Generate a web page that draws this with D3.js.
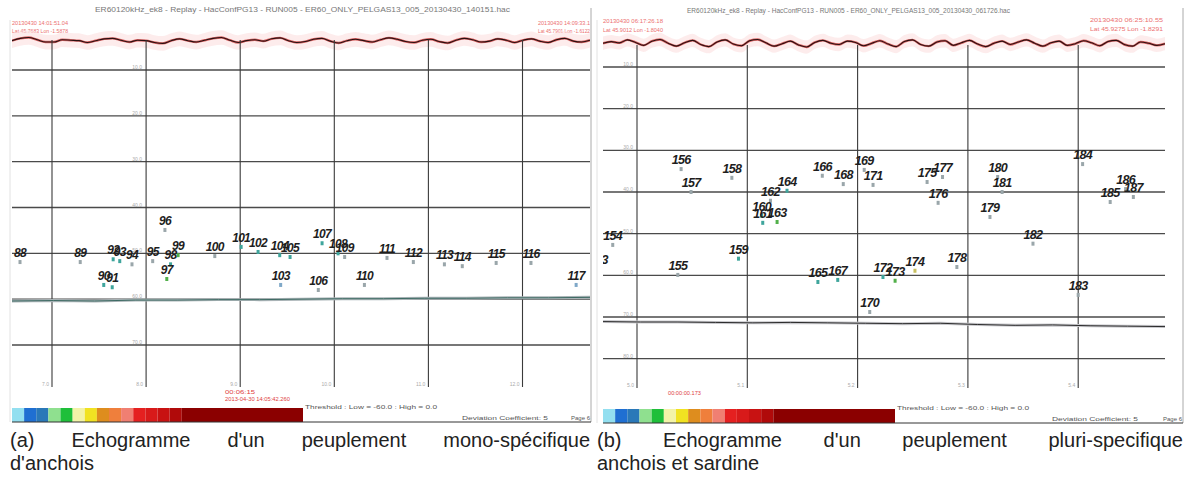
<!DOCTYPE html>
<html>
<head>
<meta charset="utf-8">
<script src="https://cdn.jsdelivr.net/npm/d3@7"></script>
<style>
  body { margin: 0; background: #fff; }
  svg text { font-family: "Liberation Sans", Arial, sans-serif; }
</style>
</head>
<body>
<div id="chart"></div>
<script>
// ---- panel (a) : mono-specific anchovy ----
const titleA = "ER60120kHz_ek8 - Replay - HacConfPG13 - RUN005 - ER60_ONLY_PELGAS13_005_20130430_140151.hac";
const idsA   = [88, 89, 90, 91, 92, 93, 94, 95, 96, 97, 98, 99, 100, 101, 102, 103, 104, 105, 106, 107, 108, 109, 110, 111, 112, 113, 114, 115, 116, 117];
// position along track (grid units) and depth (m) of each school
const posA   = [0.66, 1.30, 1.55, 1.64, 1.65, 1.72, 1.85, 2.07, 2.20, 2.22, 2.26, 2.34, 2.73, 3.01, 3.19, 3.43, 3.42, 3.53, 3.83, 3.87, 4.04, 4.11, 4.32, 4.56, 4.84, 5.17, 5.36, 5.72, 6.09, 6.57];
const depthA = [51.9, 51.9, 56.9, 57.4, 51.3, 51.7, 52.4, 51.7, 44.9, 55.6, 52.4, 50.4, 50.6, 48.6, 49.7, 56.9, 50.4, 50.8, 58.0, 47.8, 50.0, 50.8, 56.9, 51.0, 51.9, 52.4, 52.8, 52.1, 52.1, 56.9];
const echoA  = ["k","k","t","t","t","t","k","k","k","g","t","g","k","t","t","b","t","t","k","t","t","k","k","k","k","k","k","k","k","b"];
const surfA  = [3.6,3.1,2.9,3.4,3.9,3.9,3.4,3.5,3.6,4.0,3.6,3.2,3.1,3.5,3.9,3.5,3.6,4.0,4.2,3.6,3.2,3.6,3.9,3.5,3.1,2.9,3.5,4.0,3.6,3.4,3.7,3.2,3.0,3.6,4.0,3.8,3.3,3.1,3.7,4.1,3.6,3.3,3.6,3.9,3.4,3.0,3.3,3.8,4.0,3.5,3.3,3.8,4.1,3.5,3.1,3.4,3.9,3.7,3.2,3.5,4.0,3.5,3.2,3.7,4.0,3.4,3.1,3.7,3.9,3.5];
const bottomA = [60.4,60.3,60.4,60.2,60.2,60.1,60.1,60.0,59.9,59.9,59.8,59.8,59.7,59.7,59.6];
const gridXA = [1, 2, 3, 4, 5, 6];
const gridYA = [10, 20, 30, 40, 50, 60, 70];
const distA  = ["7.0", "8.0", "9.0", "10.0", "11.0", "12.0"];

// ---- panel (b) : anchovy and sardine ----
const titleB = "ER60120kHz_ek8 - Replay - HacConfPG13 - RUN005 - ER60_ONLY_PELGAS13_005_20130430_061726.hac";
const idsB   = [153, 154, 155, 156, 157, 158, 159, 160, 161, 162, 163, 164, 165, 166, 167, 168, 169, 170, 171, 172, 173, 174, 175, 176, 177, 178, 179, 180, 181, 182, 183, 184, 185, 186, 187];
const posB   = [0.65, 0.78, 1.37, 1.40, 1.49, 1.86, 1.92, 2.13, 2.14, 2.21, 2.27, 2.36, 2.64, 2.68, 2.82, 2.87, 3.06, 3.11, 3.14, 3.23, 3.34, 3.52, 3.63, 3.73, 3.77, 3.90, 4.20, 4.27, 4.31, 4.59, 5.00, 5.04, 5.29, 5.43, 5.50];
const depthB = [58.4, 52.7, 59.9, 34.5, 40.0, 36.6, 56.0, 45.7, 47.4, 42.1, 47.2, 39.7, 61.6, 36.1, 61.1, 38.1, 34.7, 68.8, 38.3, 60.4, 61.3, 58.9, 37.6, 42.6, 36.4, 58.0, 46.0, 36.4, 40.0, 52.4, 64.7, 33.3, 42.4, 39.3, 41.2];
const echoB  = ["k","k","k","k","k","k","t","t","t","k","g","t","t","k","t","k","k","k","k","t","g","y","k","k","k","k","k","k","k","k","k","k","k","k","k"];
const surfB  = [4.3,3.9,4.2,3.5,4.1,4.8,3.8,3.4,4.3,5.0,4.2,3.6,4.6,5.1,4.0,3.5,4.5,4.9,3.7,3.4,4.2,5.0,4.4,3.8,4.7,5.2,4.1,3.6,4.3,4.6,3.8,4.1,4.9,4.3,3.7,4.5,5.1,3.9,3.5,4.6,5.0,4.0,3.7,4.8,4.2,3.6,4.5,5.1,4.3,3.8,4.6,4.0,3.5,4.3,5.0,4.2,3.8,4.8,4.4,3.7,4.2,4.9,3.9,3.6,4.6,5.0,4.0,4.3,4.8,4.4];
const bottomB = [71.1,71.2,71.2,71.3,71.4,71.3,71.4,71.5,71.6,71.5,71.8,72.0,71.9,72.1,72.2,72.3];
const gridXB = [1, 2, 3, 4, 5];
const gridYB = [10, 20, 30, 40, 50, 60, 70, 80];
const distB  = ["5.0", "5.1", "5.2", "5.3", "5.4"];

// ---- colour scale (dB) ----
const barBreaks = [-60, -57.5, -55, -52.5, -50, -47.5, -45, -42.5, -40, -37.5, -35, -32.5, -30, -27.5, -25, 0];
const barColors = ["#93dff0", "#1f6fd2", "#2a78b8", "#8fe08f", "#1fbf3a", "#f3f3a8", "#f1e222", "#de8d1e", "#ef7f3c", "#f07f72", "#e52020", "#d81a1a", "#c81212", "#b00a0a", "#8b0000"];

const captionA = [["(a)", "Echogramme", "d'un", "peuplement", "mono-spécifique"], ["d'anchois"]];
const captionB = [["(b)", "Echogramme", "d'un", "peuplement", "pluri-specifique"], ["anchois", "et", "sardine"]];

const echoColor = { k: "#9aa6aa", t: "#3fa59c", g: "#52b04a", b: "#7fa8c8", y: "#c8c060" };

const svg = d3.select("#chart").append("svg")
  .attr("width", 1186)
  .attr("height", 490);

function drawPanel(p) {
  const g = svg.append("g");
  const x = p.x, y = p.y;

  g.append("clipPath").attr("id", p.id + "clip")
    .append("rect").attr("x", p.left).attr("y", 0).attr("width", p.right - p.left).attr("height", 430);

  // frame
  g.append("line").attr("x1", p.frameR).attr("x2", p.frameR).attr("y1", 8).attr("y2", p.barY + 14)
    .attr("stroke", "#aaa").attr("stroke-width", 1);
  g.append("line").attr("x1", p.frameL).attr("x2", p.frameL).attr("y1", 20).attr("y2", p.barY + 14)
    .attr("stroke", "#e2e2e2").attr("stroke-width", 1);

  // title
  g.append("text").attr("x", p.titleX0).attr("y", p.titleY)
    .attr("font-size", 7).attr("fill", "#777")
    .attr("textLength", p.titleX1 - p.titleX0).attr("lengthAdjust", "spacingAndGlyphs")
    .text(p.title);

  // red info texts in the corners
  p.info.forEach(d => {
    g.append("text").attr("x", d[0]).attr("y", d[1]).attr("font-size", 4.5)
      .attr("fill", "#ec7070").attr("textLength", d[2]).attr("lengthAdjust", "spacingAndGlyphs")
      .text(d[3]);
  });

  const inner = g.append("g").attr("clip-path", "url(#" + p.id + "clip)");

  // sea surface
  const idx = d3.scaleLinear().domain([0, p.surf.length - 1]).range([x.invert(p.left), x.invert(p.right)]);
  inner.append("path")
    .attr("d", d3.area().x((d, i) => x(idx(i))).y0(d => y(d - 1.6)).y1(d => y(d + 1.6)).curve(d3.curveMonotoneX)(p.surf))
    .attr("fill", "#fbe0e0").attr("opacity", 0.6);
  inner.append("path")
    .attr("d", d3.line().x((d, i) => x(idx(i))).y(d => y(d)).curve(d3.curveMonotoneX)(p.surf))
    .attr("fill", "none").attr("stroke", "#d04040").attr("stroke-width", 2.4).attr("opacity", 0.8);
  inner.append("path")
    .attr("d", d3.line().x((d, i) => x(idx(i))).y(d => y(d)).curve(d3.curveMonotoneX)(p.surf))
    .attr("fill", "none").attr("stroke", "#2a1010").attr("stroke-width", 1.1);

  // grid
  inner.selectAll("line.h").data(p.gridY).enter().append("line")
    .attr("x1", p.left).attr("x2", p.gridRight)
    .attr("y1", d => y(d)).attr("y2", d => y(d))
    .attr("stroke", "#4a4a4a").attr("stroke-width", 1.4);
  inner.selectAll("line.v").data(p.gridX).enter().append("line")
    .attr("x1", d => x(d)).attr("x2", d => x(d))
    .attr("y1", p.vTop).attr("y2", p.vBottom)
    .attr("stroke", "#3a3a3a").attr("stroke-width", 1.1);

  // depth tick labels
  inner.selectAll("text.dep").data(p.gridY).enter().append("text")
    .attr("x", p.depLabelX).attr("y", d => y(d) - 1)
    .attr("text-anchor", "end").attr("font-size", 5).attr("fill", "#aaa")
    .text(d => d.toFixed(1));

  // distance tick labels
  inner.selectAll("text.dist").data(p.gridX).enter().append("text")
    .attr("x", d => x(d) - 3).attr("y", p.vBottom - 1)
    .attr("text-anchor", "end").attr("font-size", 5).attr("fill", "#aaa")
    .text((d, i) => p.dist[i]);

  // sea bed
  const bidx = d3.scaleLinear().domain([0, p.bottom.length - 1]).range([x.invert(p.left), x.invert(p.gridRight)]);
  inner.append("path")
    .attr("d", d3.line().x((d, i) => x(bidx(i))).y(d => y(d))(p.bottom))
    .attr("fill", "none").attr("stroke", p.bottomLight).attr("stroke-width", 3);
  inner.append("path")
    .attr("d", d3.line().x((d, i) => x(bidx(i))).y(d => y(d))(p.bottom))
    .attr("fill", "none").attr("stroke", p.bottomDark).attr("stroke-width", 1);

  // schools
  const schools = p.ids.map((id, i) => ({ id: id, pos: p.pos[i], depth: p.depth[i], echo: p.echo[i] }));
  inner.selectAll("rect.school").data(schools).enter().append("rect")
    .attr("x", d => x(d.pos) - 1.5).attr("y", d => y(d.depth) - 2)
    .attr("width", 3).attr("height", 4)
    .attr("fill", d => echoColor[d.echo]);
  inner.selectAll("text.school").data(schools).enter().append("text")
    .attr("x", d => x(d.pos)).attr("y", d => y(d.depth) - 5)
    .attr("text-anchor", "middle")
    .attr("font-size", p.labelSize).attr("font-weight", "bold").attr("font-style", "italic")
    .attr("letter-spacing", -0.7).attr("fill", "#1e1e1e")
    .text(d => d.id);

  // red time stamps under the grid
  p.stamps.forEach(d => {
    g.append("text").attr("x", d[0]).attr("y", d[1]).attr("font-size", 5)
      .attr("fill", "#e04040").attr("textLength", d[2]).attr("lengthAdjust", "spacingAndGlyphs")
      .text(d[3]);
  });

  // colour bar
  const xb = d3.scaleLinear().domain([-60, 0]).range([p.left, p.barRight]);
  g.selectAll("rect.bar").data(barColors).enter().append("rect")
    .attr("x", (d, i) => xb(barBreaks[i]))
    .attr("y", p.barY)
    .attr("width", (d, i) => xb(barBreaks[i + 1]) - xb(barBreaks[i]))
    .attr("height", 14)
    .attr("fill", d => d);
  g.append("line").attr("x1", p.left).attr("x2", p.frameR).attr("y1", p.barY + 14).attr("y2", p.barY + 14)
    .attr("stroke", "#333").attr("stroke-width", 1);

  g.append("text").attr("x", p.barRight + 2).attr("y", p.barY + 1).attr("font-size", 6).attr("fill", "#555")
    .attr("textLength", 132).attr("lengthAdjust", "spacingAndGlyphs")
    .text("Threshold : Low = -60.0 : High = 0.0");
  g.append("text").attr("x", p.devX).attr("y", p.barY + 12).attr("font-size", 6).attr("fill", "#555")
    .attr("textLength", 86).attr("lengthAdjust", "spacingAndGlyphs")
    .text("Deviation Coefficient: 5");
  g.append("text").attr("x", p.frameR - 1).attr("y", p.barY + 12).attr("font-size", 6).attr("fill", "#555")
    .attr("text-anchor", "end").text("Page 6");

  // caption, justified on the first line
  p.caption.forEach((words, li) => {
    const t = g.append("text").attr("y", 447 + li * 23).attr("font-size", 20).attr("fill", "#222");
    const spans = words.map(w => t.append("tspan").text(w));
    const widths = spans.map(s => s.node().getComputedTextLength());
    const gap = li === 0 ? (p.capRight - p.capLeft - d3.sum(widths)) / (words.length - 1) : 5.5;
    let cx = p.capLeft;
    spans.forEach((s, i) => { s.attr("x", cx); cx += widths[i] + gap; });
  });
}

drawPanel({
  id: "a", title: titleA, ids: idsA, pos: posA, depth: depthA, echo: echoA,
  surf: surfA, bottom: bottomA, gridX: gridXA, gridY: gridYA, dist: distA,
  x: d3.scaleLinear().domain([0, 6]).range([-42.1, 522.5]),
  y: d3.scaleLinear().domain([10, 70]).range([70, 345]),
  left: 12, right: 590, gridRight: 590, frameL: 10, frameR: 591,
  vTop: 40, vBottom: 387, depLabelX: 142,
  titleX0: 95, titleX1: 510, titleY: 12,
  info: [[12, 25, 56, "20130430 14:01:51.04"], [12, 33, 56, "Lat 45.7683 Lon -1.5878"],
         [538, 25, 52, "20130430 14:09:33.1"], [538, 33, 52, "Lat 45.7901 Lon -1.6122"]],
  stamps: [[225, 394, 30, "00:06:15"], [225, 401, 65, "2013-04-30 14:05:42.260"]],
  bottomLight: "#a9b3b6", bottomDark: "#3e6b64", labelSize: 12,
  barRight: 303, barY: 408, devX: 462,
  caption: captionA, capLeft: 10, capRight: 590
});

drawPanel({
  id: "b", title: titleB, ids: idsB, pos: posB, depth: depthB, echo: echoB,
  surf: surfB, bottom: bottomB, gridX: gridXB, gridY: gridYB, dist: distB,
  x: d3.scaleLinear().domain([0, 5]).range([526.7, 1078.2]),
  y: d3.scaleLinear().domain([10, 70]).range([67, 317]),
  left: 603, right: 1165, gridRight: 1165, frameL: 597, frameR: 1183,
  vTop: 45, vBottom: 388, depLabelX: 633,
  titleX0: 687, titleX1: 1010, titleY: 13,
  info: [[603, 23, 60, "20130430 06:17:26.18"], [603, 32, 60, "Lat 45.9012 Lon -1.8040"],
         [1090, 22, 73, "20130430 06:25:10.55"], [1090, 31, 73, "Lat 45.9275 Lon -1.8291"]],
  stamps: [[668, 395, 33, "00:00:00.173"]],
  bottomLight: "#c8c8cc", bottomDark: "#2c2c2c", labelSize: 12.5,
  barRight: 895, barY: 409, devX: 1052,
  caption: captionB, capLeft: 597, capRight: 1183
});
</script>
</body>
</html>
